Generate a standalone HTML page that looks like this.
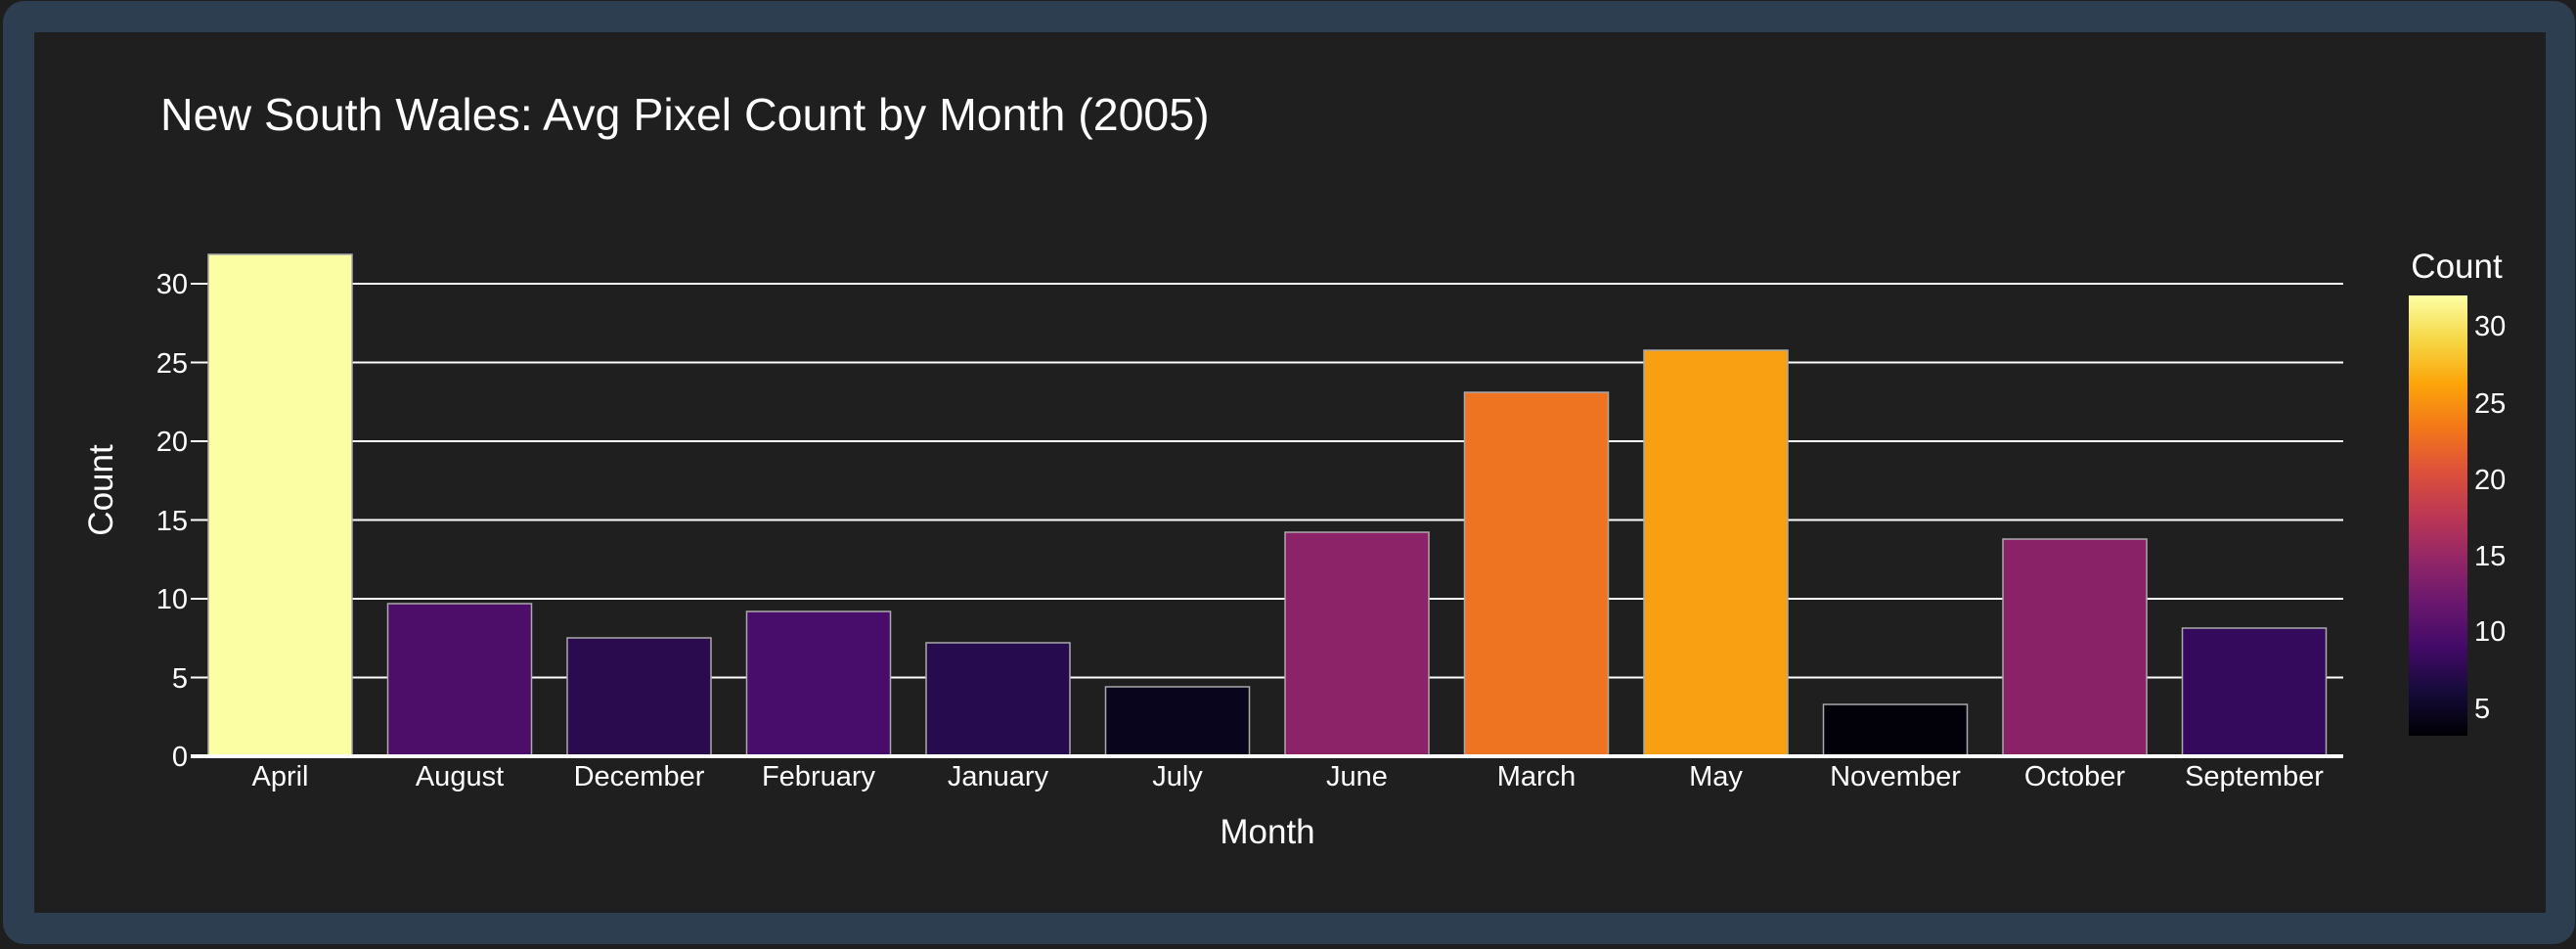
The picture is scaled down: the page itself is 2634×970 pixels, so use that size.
<!DOCTYPE html>
<html><head><meta charset="utf-8"><style>
html,body{margin:0;padding:0;background:#1e1e1e;}
svg{display:block;}
text{font-family:"Liberation Sans",sans-serif;fill:#fff;}
</style></head><body>
<svg width="2634" height="970" viewBox="0 0 2634 970" xmlns="http://www.w3.org/2000/svg">
<defs>
<linearGradient id="inf" x1="0" y1="1" x2="0" y2="0">
<stop offset="0" stop-color="#000004"/>
<stop offset="0.1" stop-color="#160b39"/>
<stop offset="0.2" stop-color="#420a68"/>
<stop offset="0.3" stop-color="#6a176e"/>
<stop offset="0.4" stop-color="#932667"/>
<stop offset="0.5" stop-color="#bc3754"/>
<stop offset="0.6" stop-color="#dd513a"/>
<stop offset="0.7" stop-color="#f37819"/>
<stop offset="0.8" stop-color="#fca50a"/>
<stop offset="0.9" stop-color="#f6d746"/>
<stop offset="1" stop-color="#fcffa4"/>
</linearGradient>
</defs>
<rect x="0" y="0" width="2634" height="970" fill="#1e1e1e"/>
<rect x="3" y="1" width="2630" height="964" rx="22" fill="#2d3e50"/>
<rect x="35" y="33" width="2568" height="900" fill="#1f1f1f"/>
<text x="164" y="133" font-size="46.5">New South Wales: Avg Pixel Count by Month (2005)</text>
<g stroke="#fff" stroke-width="2">
<line x1="195" y1="290" x2="2396" y2="290"/>
<line x1="195" y1="370.5" x2="2396" y2="370.5"/>
<line x1="195" y1="451" x2="2396" y2="451"/>
<line x1="195" y1="531.5" x2="2396" y2="531.5"/>
<line x1="195" y1="612" x2="2396" y2="612"/>
<line x1="195" y1="692.5" x2="2396" y2="692.5"/>
</g>
<g font-size="29" text-anchor="end">
<text x="192" y="300">30</text>
<text x="192" y="381">25</text>
<text x="192" y="461">20</text>
<text x="192" y="542">15</text>
<text x="192" y="622">10</text>
<text x="192" y="703">5</text>
<text x="192" y="783">0</text>
</g>
<g stroke="#aaa" stroke-width="1.5">
<rect x="213" y="260" width="147" height="513" fill="#fbfea3"/>
<rect x="396.5" y="617" width="147" height="156" fill="#4d0e69"/>
<rect x="580" y="652" width="147" height="121" fill="#2a0b4e"/>
<rect x="763.5" y="625" width="147" height="148" fill="#480d6a"/>
<rect x="947" y="657" width="147" height="116" fill="#260c4f"/>
<rect x="1130.5" y="702" width="147" height="71" fill="#08051d"/>
<rect x="1314" y="544" width="147" height="229" fill="#8c2369"/>
<rect x="1497.5" y="401" width="147" height="372" fill="#ee7421"/>
<rect x="1681" y="358" width="147" height="415" fill="#f8a012"/>
<rect x="1864.5" y="720" width="147" height="53" fill="#020109"/>
<rect x="2048" y="551" width="147" height="222" fill="#8a2268"/>
<rect x="2231.5" y="642" width="147" height="131" fill="#340b5c"/>
</g>
<line x1="195" y1="773" x2="2396" y2="773" stroke="#fff" stroke-width="4"/>
<g font-size="29" text-anchor="middle">
<text x="286.5" y="803">April</text>
<text x="470" y="803">August</text>
<text x="653.5" y="803">December</text>
<text x="837" y="803">February</text>
<text x="1020.5" y="803">January</text>
<text x="1204" y="803">July</text>
<text x="1387.5" y="803">June</text>
<text x="1571" y="803">March</text>
<text x="1754.5" y="803">May</text>
<text x="1938" y="803">November</text>
<text x="2121.5" y="803">October</text>
<text x="2305" y="803">September</text>
</g>
<text x="1296" y="862" font-size="35" text-anchor="middle">Month</text>
<text transform="translate(115,501) rotate(-90)" font-size="35" text-anchor="middle">Count</text>
<text x="2512" y="284" font-size="35" text-anchor="middle">Count</text>
<rect x="2463" y="302" width="60" height="450" fill="url(#inf)"/>
<g font-size="29">
<text x="2530" y="343">30</text>
<text x="2530" y="422">25</text>
<text x="2530" y="500">20</text>
<text x="2530" y="578">15</text>
<text x="2530" y="655">10</text>
<text x="2530" y="734">5</text>
</g>
</svg>
</body></html>
